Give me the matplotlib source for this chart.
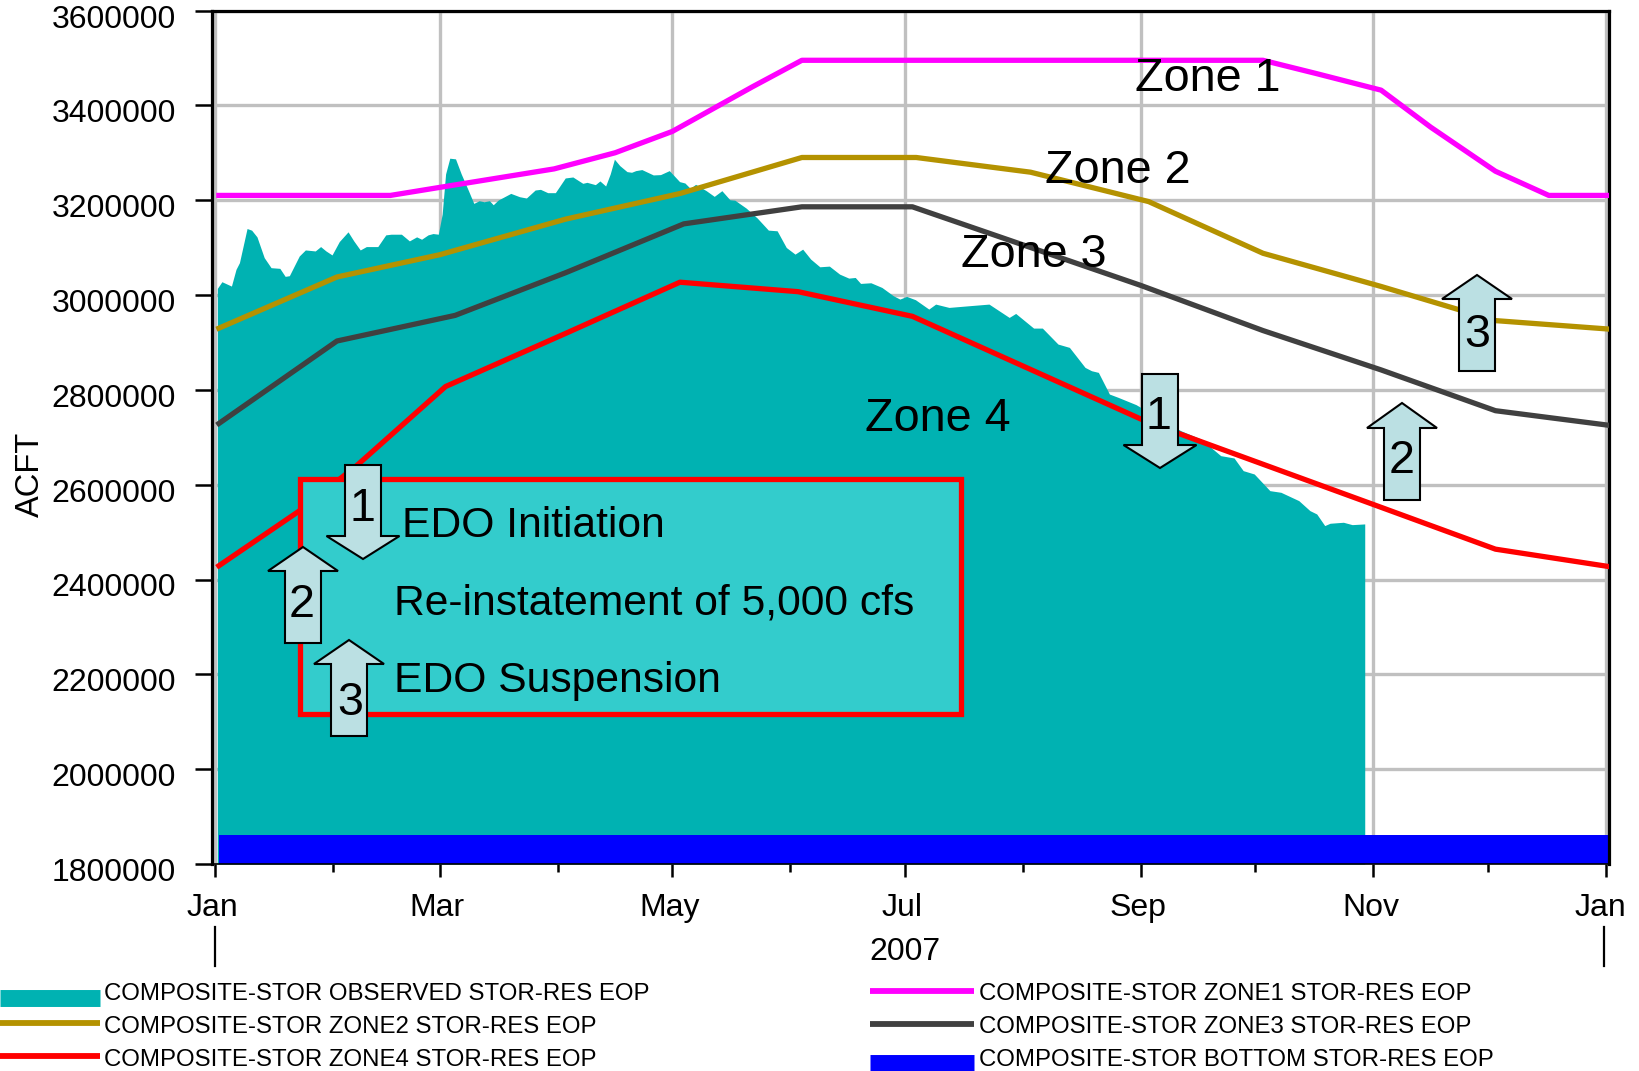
# Reservoir storage chart with zone rule curves
import matplotlib
matplotlib.use('Agg')
import matplotlib.pyplot as plt
from matplotlib.patches import Polygon, Rectangle
from matplotlib.transforms import ScaledTranslation

plt.rcParams['font.family'] = ['Liberation Sans', 'DejaVu Sans']

W, H = 1639, 1071
DPI = 100

# Data, x is day of year 2007
month_days = [0, 31, 59, 90, 120, 151, 181, 212, 243, 273, 304, 334, 365]
month_labels = ['Jan', 'Mar', 'May', 'Jul', 'Sep', 'Nov', 'Jan']
y_ticks = [1800000, 2000000, 2200000, 2400000, 2600000, 2800000, 3000000, 3200000, 3400000, 3600000]

obs_days = [0.6, 1.8, 4.3, 5.5, 6.4, 8.4, 9.6, 11, 12.9, 14.7, 17, 18.4, 19.5, 22.1, 23.7, 26.3, 27.7, 29.1,
            30.7, 32.6, 34.9, 36.4, 38.1, 39.7, 42.7, 44.8, 46.2, 48.9, 51, 52.9, 54.2, 55.9, 57.2, 58.6,
            59.6, 60.5, 61.6, 63.1, 64.6, 66.5, 67.9, 69.3, 70.6, 72, 73, 74.3, 77.6, 79.9, 81.7, 84, 85.4,
            87.3, 89.3, 91.9, 93.9, 96.5, 97.6, 99.8, 101, 102.5, 103.7, 104.8, 106.2, 108.1, 109.3, 110.4,
            112, 115, 116.9, 119.2, 121.9, 123.3, 124.7, 126.1, 128.9, 131, 133, 135.1, 136.4, 139.4, 142.3,
            145.2, 147.5, 149.9, 152.2, 154.2, 156.3, 158.7, 161.2, 163.9, 166.3, 168, 169.4, 172.1, 175,
            178, 179.7, 181.5, 183.8, 187.3, 189.1, 192.6, 197.8, 203.1, 208.4, 210.1, 214.8, 217.1, 221.2,
            224.2, 228.3, 230, 231.8, 234.7, 237, 241.7, 244.6, 253.4, 258.7, 263.9, 267.4, 269.8, 272.7,
            276.8, 279.7, 284.4, 287.3, 289.1, 291.2, 292.6, 296.1, 298.4, 301.7]
obs_vals = [3013900, 3028000, 3018800, 3054100, 3068200, 3140200, 3136700, 3122600, 3078800, 3057600, 3056200,
            3039300, 3040700, 3082300, 3095000, 3092900, 3102100, 3092900, 3084500, 3112700, 3133200, 3114100,
            3095000, 3102100, 3102100, 3126800, 3128200, 3128200, 3114100, 3122600, 3117600, 3126800, 3129600,
            3128200, 3170600, 3255300, 3288500, 3287100, 3255300, 3220000, 3193200, 3198800, 3196700, 3198800,
            3190300, 3200200, 3214300, 3207300, 3204500, 3221400, 3222800, 3215800, 3215800, 3246800, 3248900,
            3235500, 3237600, 3232700, 3240500, 3229900, 3255300, 3286400, 3272900, 3260200, 3258800, 3262300,
            3264500, 3253200, 3253900, 3262300, 3239100, 3236200, 3224900, 3233400, 3220000, 3208000, 3220000,
            3200900, 3200000, 3183100, 3162100, 3136800, 3135400, 3100200, 3086200, 3096700, 3075700, 3059500,
            3060900, 3044000, 3035600, 3037000, 3024400, 3025800, 3015900, 2998400, 2991400, 2997000, 2990000,
            2970300, 2980800, 2973800, 2977300, 2980800, 2952700, 2961100, 2930200, 2930200, 2896500, 2889500,
            2847300, 2840300, 2836800, 2791100, 2784100, 2768700, 2755000, 2713900, 2696300, 2661200, 2656300,
            2629600, 2622500, 2587400, 2583900, 2566300, 2545300, 2538200, 2513700, 2518600, 2520700, 2515700,
            2517200]

zone1_days = [1, 46, 59, 89, 105, 120, 141, 154, 275, 289, 306, 319, 336, 350, 366]
zone1_vals = [3210000, 3210000, 3227000, 3266000, 3300000, 3345000, 3439000, 3495000, 3495000, 3467000, 3432000,
              3354000, 3261000, 3210000, 3210000]
zone2_days = [1, 32, 59, 92, 122, 154, 184, 214, 245, 275, 306, 336, 366]
zone2_vals = [2930000, 3038000, 3085000, 3160000, 3214000, 3290000, 3290000, 3259000, 3197000, 3088000, 3018000,
              2946000, 2928000]
zone3_days = [1, 32, 63, 92, 123, 154, 183, 243, 275, 306, 336, 366]
zone3_vals = [2729000, 2903000, 2957000, 3047000, 3150000, 3186000, 3186000, 3020000, 2925000, 2842000, 2756000,
              2725000]
zone4_days = [1, 22, 37, 60.5, 92, 122, 153, 183, 245, 303, 336, 366]
zone4_vals = [2429000, 2544000, 2639000, 2807000, 2919000, 3027000, 3007000, 2955000, 2731000, 2561000, 2464000,
              2427000]
bottom_days = [1, 366]
bottom_vals = [1862000, 1862000]

TEAL = '#00B2B2'
GOLD = '#B49200'
GREY = '#404040'
BOX = '#33CCCC'
ARROW = '#BBE0E3'

fig = plt.figure(figsize=(W / DPI, H / DPI), dpi=DPI)
ax = fig.add_axes([212 / W, 1 - 864 / H, (1609 - 212) / W, (864 - 10.5) / H])

# Main series
ax.fill_between(obs_days, obs_vals, 1800000, color=TEAL, linewidth=0, zorder=1)
ax.fill_between(bottom_days, bottom_vals, 1800000, color='#0000FF', linewidth=0, zorder=2)
ax.plot(zone1_days, zone1_vals, color='#FF00FF', lw=3.8, zorder=3)
ax.plot(zone2_days, zone2_vals, color=GOLD, lw=3.8, zorder=3)
ax.plot(zone3_days, zone3_vals, color=GREY, lw=3.8, zorder=3)
ax.plot(zone4_days, zone4_vals, color='red', lw=3.8, zorder=3)

ax.set_xlim(-0.8, 365.8)
ax.set_ylim(1800000, 3600000)
ax.set_xticks(month_days[::2])
ax.set_xticklabels(month_labels)
ax.set_xticks(month_days[1::2], minor=True)
ax.set_yticks(y_ticks)
ax.set_yticklabels([str(v) for v in y_ticks])
ax.grid(True, which='major', color='#C0C0C0', lw=2.4, zorder=0)
ax.set_axisbelow(True)
ax.tick_params(axis='y', length=12, width=1.8, pad=14, labelsize=23)
ax.tick_params(axis='x', which='major', length=9, width=1.8, pad=12, labelsize=23)
ax.tick_params(axis='x', which='minor', length=6, width=1.8)
for s in ax.spines.values():
    s.set_linewidth(2.3)
ax.spines['bottom'].set_linewidth(1.2)

# Nudge tick labels to where they sit in the reference
for lab in ax.get_yticklabels():
    lab.set_transform(lab.get_transform() + ScaledTranslation(0, -5.5 / DPI, fig.dpi_scale_trans))
xlabs = ax.get_xticklabels()
for i, lab in enumerate(xlabs):
    dx = -6 if i == len(xlabs) - 1 else -3
    lab.set_transform(lab.get_transform() + ScaledTranslation(dx / DPI, 0, fig.dpi_scale_trans))

# Overlay in picture pixels for the slide annotations and legend
ov = fig.add_axes([0, 0, 1, 1], facecolor='none', zorder=5)
ov.set_xlim(0, W)
ov.set_ylim(H, 0)
ov.axis('off')


def arrow_up(tip_x, tip_y, half_head, half_shaft, base_y, bottom_y):
    pts = [(tip_x, tip_y), (tip_x + half_head, base_y), (tip_x + half_shaft, base_y), (tip_x + half_shaft, bottom_y),
           (tip_x - half_shaft, bottom_y), (tip_x - half_shaft, base_y), (tip_x - half_head, base_y)]
    ov.add_patch(Polygon(pts, closed=True, facecolor=ARROW, edgecolor='black', lw=1.5, zorder=4))


ov.add_patch(Rectangle((299.5, 478.5), 661.5, 235.5, facecolor=BOX, edgecolor='red', lw=3.8, zorder=2))

arrow_up(363, 559, 36.5, 18, 536, 465)
arrow_up(303, 547, 35, 18, 571, 643)
arrow_up(349, 640, 35, 18, 664, 736)
arrow_up(1160, 468, 36.5, 18, 445, 374)
arrow_up(1402, 403, 35, 18, 428, 500)
arrow_up(1477, 275, 35, 18, 299, 371)

for txt, x, y in [('1', 362, 509), ('2', 302, 605), ('3', 350, 703), ('1', 1158, 417), ('2', 1402, 461), ('3', 1477, 335)]:
    ov.text(x, y, txt, fontsize=33.7, ha='center', va='center', zorder=6)
for txt, x, y in [('Zone 1', 1208, 79), ('Zone 2', 1118, 171), ('Zone 3', 1034, 255), ('Zone 4', 938, 419)]:
    ov.text(x, y, txt, fontsize=33.7, ha='center', va='center', zorder=6)
for txt, x, y in [('EDO Initiation', 402, 526), ('Re-instatement of 5,000 cfs', 394, 604), ('EDO Suspension', 394, 681)]:
    ov.text(x, y, txt, fontsize=30.7, ha='left', va='center', zorder=6)

ov.text(30, 474, 'ACFT', fontsize=23.5, rotation=90, ha='center', va='center')
ov.text(905, 952, '2007', fontsize=23, ha='center', va='center')
ov.plot([215, 215], [927, 966], color='black', lw=1.6)
ov.plot([1604, 1604], [927, 966], color='black', lw=1.6)

# Legend
legend_rows = [
    ('COMPOSITE-STOR OBSERVED STOR-RES EOP', 0, 100, 104.5, 994.5, 997.5, TEAL, 12.2),
    ('COMPOSITE-STOR ZONE2 STOR-RES EOP', 0, 100, 104.5, 1027, 1023, GOLD, 4.2),
    ('COMPOSITE-STOR ZONE4 STOR-RES EOP', 0, 100, 104.5, 1060, 1056, 'red', 4.2),
    ('COMPOSITE-STOR ZONE1 STOR-RES EOP', 870, 974, 979, 994.5, 990.5, '#FF00FF', 4.2),
    ('COMPOSITE-STOR ZONE3 STOR-RES EOP', 870, 974, 979, 1027, 1023.5, GREY, 4.2),
    ('COMPOSITE-STOR BOTTOM STOR-RES EOP', 870, 974, 979, 1060, 1063, '#0000FF', 12.2),
]
for name, x0, x1, tx, ty, ly, col, lw in legend_rows:
    ov.plot([x0, x1], [ly, ly], color=col, lw=lw, solid_capstyle='butt')
    ov.text(tx, ty, name, fontsize=17.3, ha='left', va='center')

fig.savefig('out.png', dpi=DPI)
